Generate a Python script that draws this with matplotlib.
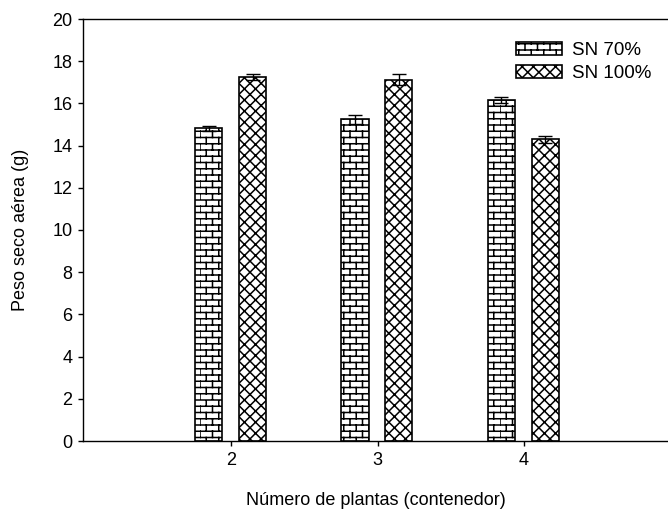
import numpy as np
import matplotlib
matplotlib.use('Agg')
import matplotlib.pyplot as plt
import matplotlib.hatch as mhatch
from matplotlib.path import Path

#! datos
plantas = [2, 3, 4]
sn70 = [14.82, 15.24, 16.16]
sn70_err = [0.13, 0.20, 0.15]
sn100 = [17.26, 17.13, 14.30]
sn100_err = [0.14, 0.24, 0.17]
series = ['SN 70%', 'SN 100%']


# patron de ladrillos ('+') y rombos ('x') propios
class BrickHatch(mhatch.HatchPatternBase):
  def __init__(self, hatch, density):
    self.rows = 16
    self.cols = 8
    if '+' in hatch:
      self.num_vertices = ((self.rows + 1) + self.rows * self.cols) * 2
    else:
      self.num_vertices = 0

  def set_vertices_and_codes(self, vertices, codes):
    segs = []
    h = 1.0 / self.rows
    w = 1.0 / self.cols
    for i in range(self.rows + 1):
      segs.append(((0.0, i * h), (1.0, i * h)))
    for i in range(self.rows):
      off = 0.0 if i % 2 == 0 else w / 2
      for j in range(self.cols):
        x = off + j * w
        segs.append(((x, i * h), (x, (i + 1) * h)))
    segs = np.array(segs).reshape(-1, 2)
    vertices[:] = segs
    codes[0::2] = Path.MOVETO
    codes[1::2] = Path.LINETO


class CrossHatch(mhatch.HatchPatternBase):
  def __init__(self, hatch, density):
    self.n = 18
    if 'x' in hatch:
      self.num_vertices = (self.n + 1) * 4
    else:
      self.num_vertices = 0

  def set_vertices_and_codes(self, vertices, codes):
    steps = np.linspace(-0.5, 0.5, self.n + 1)
    k = self.n + 1
    ne = vertices[:2 * k]
    se = vertices[2 * k:]
    ne[0::2, 0] = 0.0 + steps
    ne[0::2, 1] = 0.0 - steps
    ne[1::2, 0] = 1.0 + steps
    ne[1::2, 1] = 1.0 - steps
    se[0::2, 0] = 0.0 + steps
    se[0::2, 1] = 1.0 + steps
    se[1::2, 0] = 1.0 + steps
    se[1::2, 1] = 0.0 + steps
    codes[0::2] = Path.MOVETO
    codes[1::2] = Path.LINETO


mhatch._hatch_types = [BrickHatch, CrossHatch]

plt.rcParams['font.family'] = ['Liberation Sans', 'DejaVu Sans']
plt.rcParams['hatch.linewidth'] = 1.1
plt.rcParams['hatch.color'] = 'black'

fig = plt.figure(figsize=(6.68, 5.15), dpi=100)
ax = fig.add_axes([83 / 668, 1 - 441 / 515, 585 / 668, 422 / 515])

x = np.array(plantas, dtype=float)
ancho = 0.185
ax.bar(x - 0.155, sn70, ancho, yerr=sn70_err, color='white', edgecolor='black',
       linewidth=1.2, hatch='+', label=series[0],
       error_kw=dict(ecolor='black', elinewidth=1, capsize=4.7, capthick=1))
ax.bar(x + 0.145, sn100, ancho, yerr=sn100_err, color='white', edgecolor='black',
       linewidth=1.2, hatch='x', label=series[1],
       error_kw=dict(ecolor='black', elinewidth=1, capsize=4.7, capthick=1))

ax.set_xlim(0.985, 4.985)
ax.set_ylim(0, 20)
ax.set_xticks(plantas)
ax.set_yticks(np.arange(0, 21, 2))
ax.tick_params(direction='out', length=3.6, width=1, labelsize=13, pad=4)
ax.spines['right'].set_visible(False)
for s in ['left', 'top', 'bottom']:
  ax.spines[s].set_linewidth(1)

ax.set_xlabel('Número de plantas (contenedor)', fontsize=13, labelpad=17)
ax.set_ylabel('Peso seco aérea (g)', fontsize=13, labelpad=17)

ax.legend(loc='upper right', bbox_to_anchor=(1.0, 0.985), frameon=False, fontsize=13.5,
          handlelength=2.5, handleheight=0.7, handletextpad=0.5, labelspacing=0.3)

fig.savefig('out.png', dpi=100)
